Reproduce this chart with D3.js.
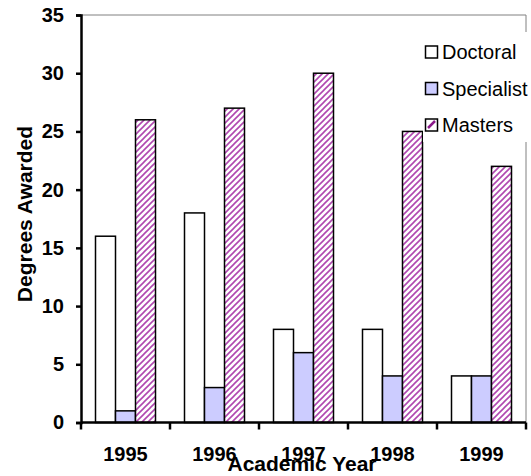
<!DOCTYPE html>
<html>
<head>
<meta charset="utf-8">
<script src="https://cdn.jsdelivr.net/npm/d3@7"></script>
<style>
body { margin: 0; background: #fff; }
text { font-family: "Liberation Sans", Arial, sans-serif; }
</style>
</head>
<body>
<script>
var width = 531;
var height = 476;

var years = ["1995", "1996", "1997", "1998", "1999"];
var doctoral = [16, 18, 8, 8, 4];
var specialist = [1, 3, 6, 4, 4];
var masters = [26, 27, 30, 25, 22];
var seriesNames = ["Doctoral", "Specialist", "Masters"];
var yTicks = [0, 5, 10, 15, 20, 25, 30, 35];

// plot area edges (can't call it "top", that's window.top)
var plotL = 81, plotR = 526, plotT = 15, plotB = 422.5;

var svg = d3.select("body")
    .append("svg")
    .attr("width", width)
    .attr("height", height);

// hatch pattern for Masters
var defs = svg.append("defs");
var pat = defs.append("pattern")
    .attr("id", "hatch")
    .attr("patternUnits", "userSpaceOnUse")
    .attr("width", 6)
    .attr("height", 6);
pat.append("rect").attr("width", 6).attr("height", 6).attr("fill", "#fff");
pat.append("path")
    .attr("d", "M0,6 L6,0 M-1.5,1.5 L1.5,-1.5 M4.5,7.5 L7.5,4.5")
    .attr("stroke", "#b048b0")
    .attr("stroke-width", 1.6);

var x = d3.scaleBand()
    .domain(years)
    .range([plotL, plotR])
    .paddingInner(29 / 89)
    .paddingOuter(14.5 / 89);

var x1 = d3.scaleBand()
    .domain(seriesNames)
    .range([0, x.bandwidth()]);

var y = d3.scaleLinear()
    .domain([0, 35])
    .range([plotB, plotT]);

var fills = { "Doctoral": "#fff", "Specialist": "#ccccff", "Masters": "url(#hatch)" };
var values = { "Doctoral": doctoral, "Specialist": specialist, "Masters": masters };

// plot border (top and right, grey)
svg.append("path")
    .attr("d", "M" + plotL + "," + plotT + "H" + plotR + "V" + plotB)
    .attr("fill", "none")
    .attr("stroke", "#808080")
    .attr("stroke-width", 1);

// bars
seriesNames.forEach(function(s) {
    svg.append("g").selectAll("rect")
        .data(values[s])
        .enter()
        .append("rect")
        .attr("x", function(d, i) { return x(years[i]) + x1(s); })
        .attr("y", function(d) { return y(d); })
        .attr("width", x1.bandwidth())
        .attr("height", function(d) { return y(0) - y(d); })
        .attr("fill", fills[s])
        .attr("stroke", "#000")
        .attr("stroke-width", 1.5);
});

// y axis
var yAxis = svg.append("g")
    .attr("transform", "translate(" + plotL + ",0)")
    .call(d3.axisLeft(y).tickValues(yTicks).tickSize(5).tickPadding(12));
yAxis.select(".domain").attr("stroke-width", 2.5);
yAxis.selectAll(".tick line").attr("stroke-width", 2.5);
yAxis.selectAll("text")
    .attr("font-size", "20px")
    .attr("font-weight", "bold")
    .attr("font-family", "Liberation Sans, Arial, sans-serif")
    .attr("fill", "#000");

// x axis with ticks between categories
var xAxis = svg.append("g")
    .attr("transform", "translate(0," + plotB + ")");
xAxis.append("line")
    .attr("x1", plotL).attr("x2", plotR)
    .attr("stroke", "#000").attr("stroke-width", 2.5);
var step = x.step();
var bounds = years.map(function(d) { return x(d) - x.paddingInner() * step / 2; });
bounds.push(plotR);
xAxis.selectAll(".xt")
    .data(bounds)
    .enter()
    .append("line")
    .attr("x1", function(d) { return d; })
    .attr("x2", function(d) { return d; })
    .attr("y1", 0).attr("y2", 7)
    .attr("stroke", "#000").attr("stroke-width", 2.5);
xAxis.selectAll(".xl")
    .data(years)
    .enter()
    .append("text")
    .attr("x", function(d) { return x(d) + x.bandwidth() / 2; })
    .attr("y", 38)
    .attr("text-anchor", "middle")
    .attr("font-size", "20px")
    .attr("font-weight", "bold")
    .text(function(d) { return d; });

// axis titles
svg.append("text")
    .attr("transform", "translate(32,214) rotate(-90)")
    .attr("text-anchor", "middle")
    .attr("font-size", "21px")
    .attr("font-weight", "bold")
    .text("Degrees Awarded");

svg.append("text")
    .attr("x", 302)
    .attr("y", 471)
    .attr("text-anchor", "middle")
    .attr("font-size", "21px")
    .attr("font-weight", "bold")
    .text("Academic Year");

// legend
var legend = svg.append("g");
legend.append("rect")
    .attr("x", 423).attr("y", 32)
    .attr("width", 108).attr("height", 110)
    .attr("fill", "#fff");
var item = legend.selectAll(".li")
    .data(seriesNames)
    .enter()
    .append("g")
    .attr("transform", function(d, i) { return "translate(425," + (52 + i * 36.5) + ")"; });
item.append("rect")
    .attr("x", 0.5).attr("y", -6)
    .attr("width", 12).attr("height", 12)
    .attr("fill", function(d) { return d === "Masters" ? "#fff" : fills[d]; })
    .attr("stroke", "#000")
    .attr("stroke-width", 1.5);
// the Masters key shows a single thick stripe
item.filter(function(d) { return d === "Masters"; })
    .append("line")
    .attr("x1", 3).attr("y1", 3)
    .attr("x2", 10).attr("y2", -4)
    .attr("stroke", "#8a1a8a")
    .attr("stroke-width", 2.5);
item.append("text")
    .attr("x", 17)
    .attr("y", 7)
    .attr("font-size", "20px")
    .text(function(d) { return d; });
</script>
</body>
</html>
